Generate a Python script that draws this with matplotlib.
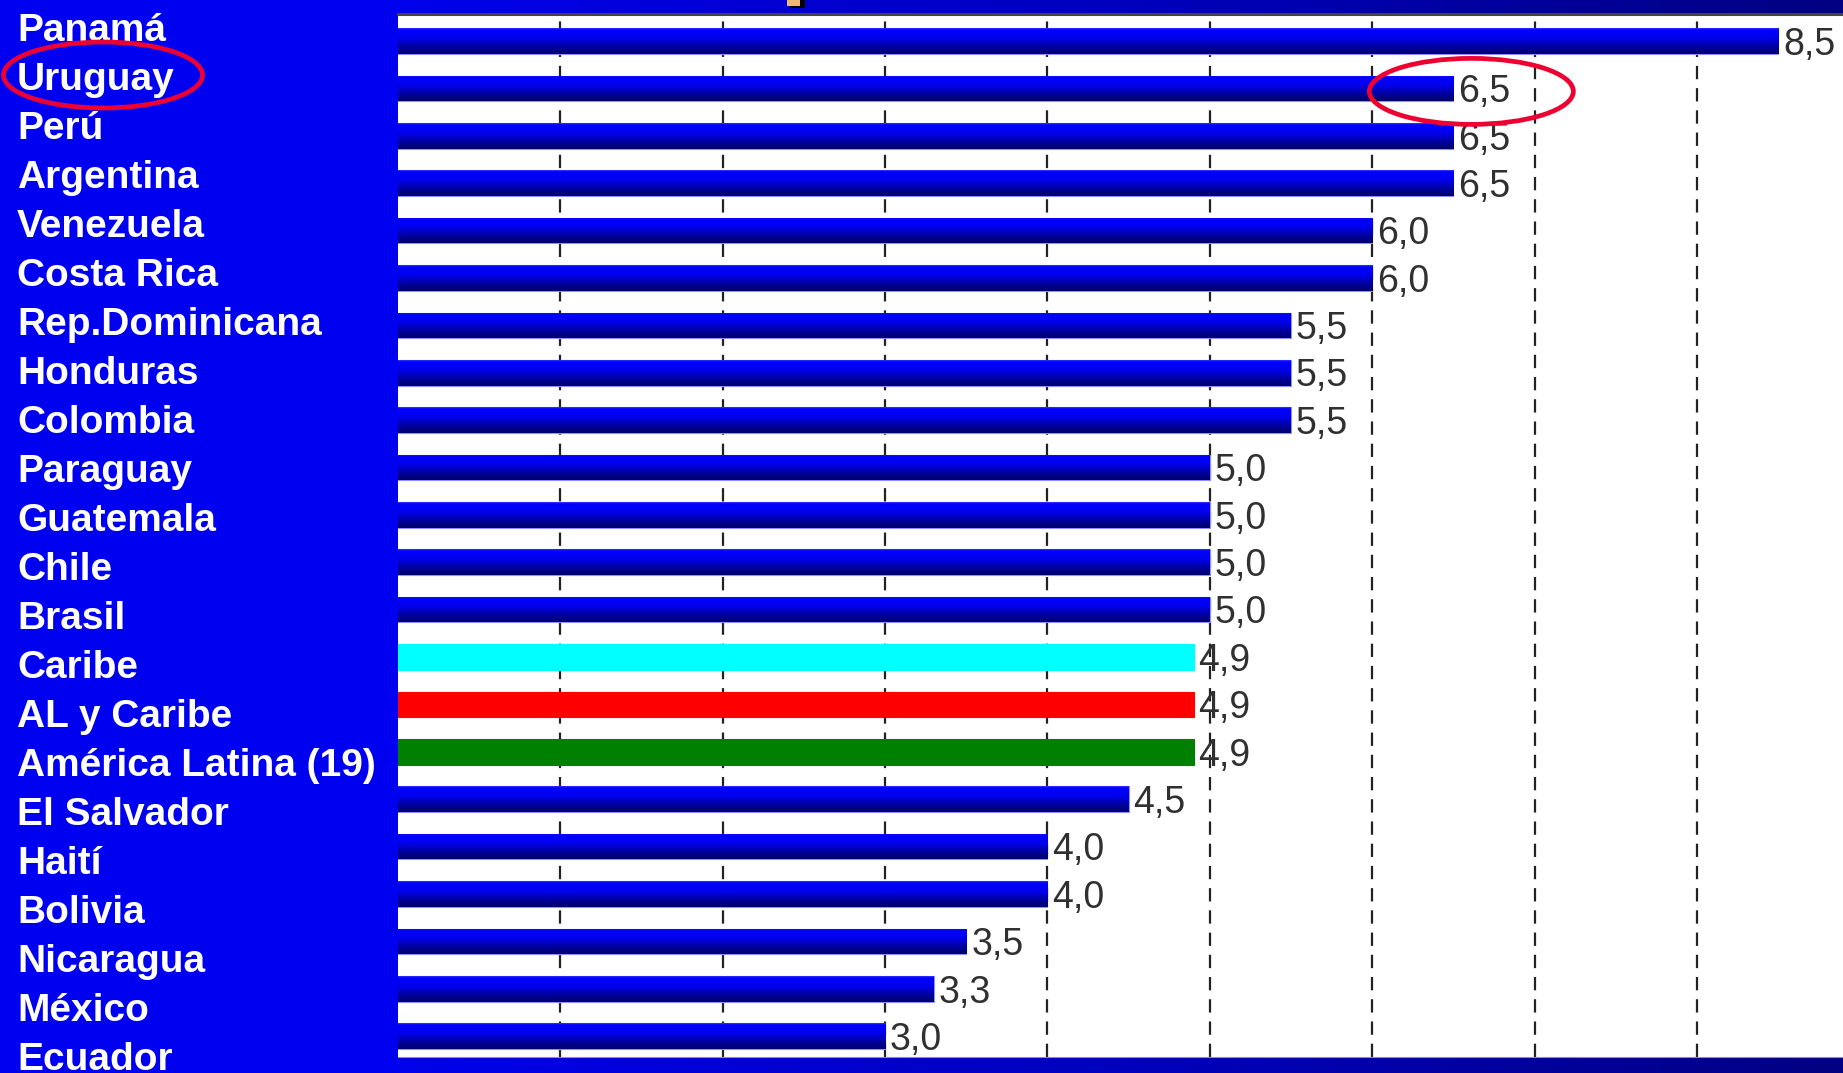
import numpy as np
import matplotlib
matplotlib.use("Agg")
import matplotlib.pyplot as plt
from matplotlib.colors import LinearSegmentedColormap
from matplotlib.patches import Ellipse, Rectangle

# ---- data -------------------------------------------------------------
countries = ["Panamá", "Uruguay", "Perú", "Argentina", "Venezuela", "Costa Rica",
             "Rep.Dominicana", "Honduras", "Colombia", "Paraguay", "Guatemala",
             "Chile", "Brasil", "Caribe", "AL y Caribe", "América Latina (19)",
             "El Salvador", "Haití", "Bolivia", "Nicaragua", "México", "Ecuador"]
values = [8.5, 6.5, 6.5, 6.5, 6.0, 6.0, 5.5, 5.5, 5.5, 5.0, 5.0, 5.0, 5.0,
          4.9, 4.9, 4.9, 4.5, 4.0, 4.0, 3.5, 3.3, 3.0]
# aggregates get flat colours, countries get the shaded blue
flat_colors = {"Caribe": "#00ffff", "AL y Caribe": "#ff0000",
               "América Latina (19)": "#008000"}
highlight = "Uruguay"

# ---- figure geometry (pixels) ------------------------------------------
W, H = 1843, 1073
DPI = 100
panel_blue = (0, 0, 240 / 255)

fig = plt.figure(figsize=(W / DPI, H / DPI), dpi=DPI, facecolor=panel_blue)

# background layer in pixel coordinates: bands and category labels
bg = fig.add_axes([0, 0, 1, 1], zorder=0)
bg.set_xlim(0, W)
bg.set_ylim(H, 0)
bg.axis("off")
bg.set_facecolor(panel_blue)

band = np.linspace(0, 1, 256)[None, :]
band_cmap = LinearSegmentedColormap.from_list(
    "band", [(0, 0, 235 / 255), (0, 0, 190 / 255), (0, 0, 130 / 255)])
bg.imshow(band, cmap=band_cmap, extent=[398, W, 13, 0], aspect="auto")
bg.imshow(band, cmap=band_cmap, extent=[398, W, H, 1058], aspect="auto")

for i, name in enumerate(countries):
    bg.text(17, 40.7 + 49.0 * i, name, color="white", fontsize=28,
            fontweight="bold", family=["Liberation Sans", "DejaVu Sans"],
            ha="left", va="baseline")

# ---- main bar axes ------------------------------------------------------
left, top, bottom = 398, 14, 1057
ax = fig.add_axes([left / W, (H - bottom) / H, (W - left) / W, (bottom - top) / H],
                  zorder=1)
ax.set_facecolor("white")

ypos = np.arange(len(countries))
bar_h = 0.54
bar_cmap = LinearSegmentedColormap.from_list(
    "barshade", [(0.0, (0.2, 0.2, 1.0)), (0.06, (0.0, 0.0, 1.0)),
                 (0.38, (0.0, 0.0, 0.93)), (0.75, (0.0, 0.0, 0.6)),
                 (1.0, (0.0, 0.0, 0.42))])
grad = np.linspace(0, 1, 64)[:, None]

bars = ax.barh(ypos, values, height=bar_h, zorder=2,
               color=[flat_colors.get(c, (0, 0, 1)) for c in countries],
               edgecolor=[flat_colors.get(c, "#8f8fff") for c in countries],
               linewidth=0.8)
for bar, name, v, y in zip(bars, countries, values, ypos):
    if name not in flat_colors:
        im = ax.imshow(grad, cmap=bar_cmap, aspect="auto", zorder=2.5,
                       extent=[0, v, y + bar_h / 2, y - bar_h / 2],
                       interpolation="bilinear")
        im.set_clip_path(bar)
    ax.text(v + 0.03, y + 0.29, f"{v:.1f}".replace(".", ","), color="#303030",
            fontsize=27, family=["Liberation Sans", "DejaVu Sans"],
            ha="left", va="baseline", zorder=4)

ax.set_xlim(0, 8.9)
ax.set_ylim(21.44, -0.57)
ax.set_xticks(np.arange(1, 9))
ax.set_yticks([])
ax.tick_params(axis="x", length=0, labelbottom=False)
ax.xaxis.grid(True, color="#222222", linewidth=1.6,
              linestyle=(0, (6.0, 4.0)), zorder=1)
ax.set_axisbelow(True)
for side in ("left", "right"):
    ax.spines[side].set_visible(False)
ax.spines["top"].set_color("#444444")
ax.spines["top"].set_linewidth(2.2)
ax.spines["bottom"].set_color("#9090a0")
ax.spines["bottom"].set_linewidth(0.8)

# ---- overlay: highlight rings ------------------------------------------
ov = fig.add_axes([0, 0, 1, 1], zorder=3)
ov.set_xlim(0, W)
ov.set_ylim(H, 0)
ov.axis("off")
ov.patch.set_alpha(0)

hi = countries.index(highlight)
ov.add_patch(Ellipse((103, 27 + 49.0 * hi - 1), 199, 66, fill=False,
                     edgecolor="#ee0030", linewidth=3.4))
bar_center_px = 41 + 47.38 * hi
bar_end_px = left + values[hi] * (W - left) / 8.9
ov.add_patch(Ellipse((bar_end_px + 18, bar_center_px + 3), 204, 66, fill=False,
                     edgecolor="#ee0030", linewidth=3.4))

# small title-bar fragment at the top edge
ov.add_patch(Rectangle((790, 0), 15, 8, facecolor="black", edgecolor="none"))
ov.add_patch(Rectangle((787, 0), 13, 6, facecolor="#f0b870", edgecolor="none"))

fig.savefig("out.png", dpi=DPI, facecolor=fig.get_facecolor())
